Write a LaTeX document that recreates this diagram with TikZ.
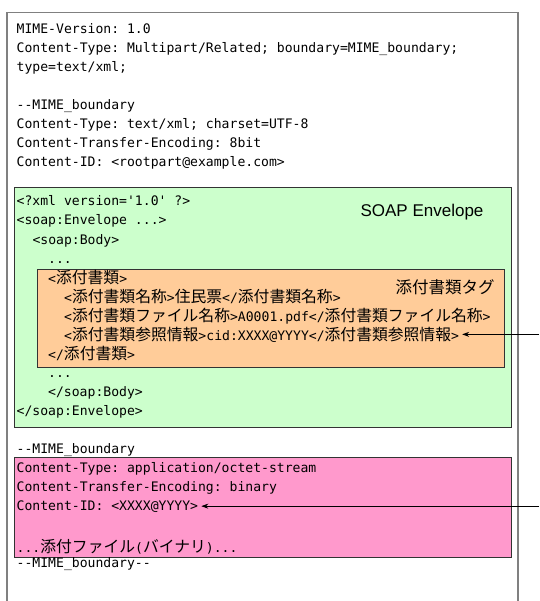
\documentclass[tikz,border=0pt]{standalone}
\usepackage{fontspec}
\usepackage{tikz}
\usetikzlibrary{arrows.meta,positioning}
\newfontfamily\monofont{DejaVu Sans Mono}
\newfontfamily\jpfont{Noto Sans CJK JP}
\newfontfamily\labfont{Liberation Sans}
\newcommand{\jp}[1]{{\jpfont\fontsize{15.8}{19}\selectfont #1}}
\definecolor{soapgreen}{HTML}{CCFFCC}
\definecolor{tagorange}{HTML}{FFCC99}
\definecolor{binpink}{HTML}{FF99CC}
\definecolor{framegray}{HTML}{808080}

\begin{document}
\begin{tikzpicture}[x=1pt,y=-1pt]
	\tikzstyle{txt} = [anchor=base west, inner sep=0pt,
	font=\monofont\fontsize{13.1}{19}\selectfont\frenchspacing]
	\tikzstyle{box} = [draw=black!80, line width=0.8pt]
	\tikzstyle{arrow} = [line width=0.8pt, ->, >={Stealth[length=7pt,width=5pt]}, shorten >=3pt]
	\useasboundingbox (0,0) rectangle (539,601);
	\draw [framegray, line width=1.5pt] (7,601) -- (7,12.5) -- (518,12.5) -- (518,601);
	\draw [box, fill=soapgreen] (14.5,187) rectangle (511.5,427);
	\draw [box, fill=tagorange] (37,269) rectangle (504,367);
	\draw [box, fill=binpink] (14.5,457) rectangle (511.5,557);
	% header
	\node (mimever) [txt] at (16.5,34) {MIME-Version: 1.0};
	\node (ctype) [txt] at (16.5,53) {Content-Type: Multipart/Related; boundary=MIME\_boundary;};
	\node (ctype2) [txt] at (16.5,72) {type=text/xml;};
	\node (bnd1) [txt] at (16.5,110) {-{}-MIME\_boundary};
	\node (xmltype) [txt] at (16.5,129) {Content-Type: text/xml; charset=UTF-8};
	\node (xmlenc) [txt] at (16.5,148) {Content-Transfer-Encoding: 8bit};
	\node (xmlid) [txt] at (16.5,167) {Content-ID: <rootpart@example.com>};
	% soap part
	\node (xmldecl) [txt] at (16.5,206) {<?xml version=\textquotesingle1.0\textquotesingle{} ?>};
	\node (envopen) [txt] at (16.5,225) {<soap:Envelope ...>};
	\node (bodyopen) [txt] at (32.3,244) {<soap:Body>};
	\node (dots1) [txt] at (48,263) {...};
	\node (tagopen) [txt] at (48,283) {<\jp{添付書類}>};
	\node (tagname) [txt] at (64,302) {<\jp{添付書類名称}>\jp{住民票}</\jp{添付書類名称}>};
	\node (tagfile) [txt] at (64,321) {<\jp{添付書類ファイル名称}>A0001.pdf</\jp{添付書類ファイル名称}>};
	\node (tagref) [txt] at (64,340) {<\jp{添付書類参照情報}>cid:XXXX@YYYY</\jp{添付書類参照情報}>};
	\node (tagclose) [txt] at (48,359) {</\jp{添付書類}>};
	\node (dots2) [txt] at (48,377) {...};
	\node (bodyclose) [txt] at (48,396) {</soap:Body>};
	\node (envclose) [txt] at (16.5,415) {</soap:Envelope>};
	\node (soaplabel) [font=\labfont\fontsize{17}{20}\selectfont] at (422,212) {SOAP Envelope};
	\node (taglabel) [font=\jpfont\fontsize{16.5}{20}\selectfont] at (445,287) {添付書類タグ};
	% attachment part
	\node (bnd2) [txt] at (16.5,453) {-{}-MIME\_boundary};
	\node (bintype) [txt] at (16.5,472) {Content-Type: application/octet-stream};
	\node (binenc) [txt] at (16.5,491) {Content-Transfer-Encoding: binary};
	\node (binid) [txt] at (16.5,510) {Content-ID: <XXXX@YYYY>};
	\node (bindata) [txt] at (16.5,552) {...\jp{添付ファイル}(\jp{バイナリ})...};
	\node (bnd3) [txt] at (16.5,567) {-{}-MIME\_boundary-{}-};
	% references
	\coordinate (refsrc) at (539,0);
	\coordinate (idsrc) at (539,0);
	\draw [arrow] (refsrc |- tagref.east) -- (tagref.east);
	\draw [arrow] (idsrc |- binid.east) -- (binid.east);
\end{tikzpicture}
\end{document}
